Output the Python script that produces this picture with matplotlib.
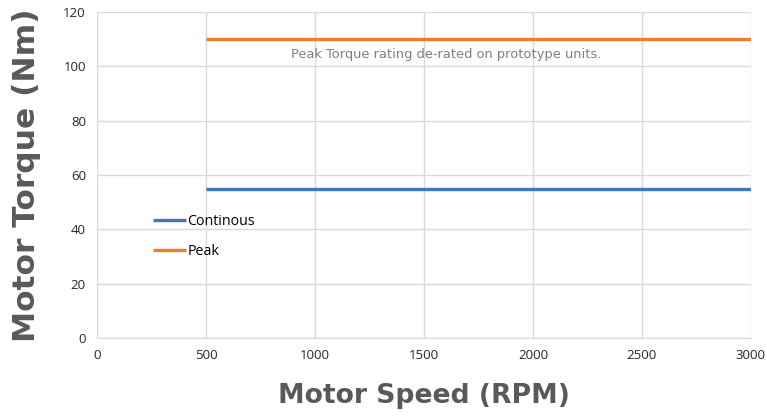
import matplotlib.pyplot as plt

# chart data
speed = [500, 3000]
continuous_torque = [55, 55]
peak_torque = [110, 110]
x_ticks = [0, 500, 1000, 1500, 2000, 2500, 3000]
y_ticks = [0, 20, 40, 60, 80, 100, 120]
note = "Peak Torque rating de-rated on prototype units."

plt.rcParams["font.family"] = ["Open Sans", "DejaVu Sans"]

fig = plt.figure(figsize=(7.67, 4.18), dpi=100)
ax = fig.add_axes([0.1265, 0.1914, 0.8525, 0.7799])

ax.plot(speed, continuous_torque, color="#4472C4", lw=2.4, label="Continous",
        solid_capstyle="butt")
ax.plot(speed, peak_torque, color="#ED7D31", lw=2.4, label="Peak",
        solid_capstyle="butt")

ax.set_xlim(0, 3000)
ax.set_ylim(0, 120)
ax.set_xticks(x_ticks)
ax.set_yticks(y_ticks)
ax.grid(True, color="#D9D9D9", lw=1)
ax.set_axisbelow(True)
for side in ["top", "right", "left"]:
    ax.spines[side].set_visible(False)
ax.spines["bottom"].set_color("#D9D9D9")
ax.tick_params(length=0, labelsize=9.5, colors="#262626", pad=8)

ax.text(1600, 104.3, note, ha="center", va="center", fontsize=9.4,
        color="#7F7F7F", family=["DejaVu Sans"])

ax.set_xlabel("Motor Speed (RPM)", fontsize=19.2, fontweight="bold",
              color="#595959", labelpad=15, family=["DejaVu Sans"])
ax.set_ylabel("Motor Torque (Nm)", fontsize=22.5, fontweight="bold",
              color="#595959", labelpad=16, family=["DejaVu Sans"])

ax.legend(loc="center left", bbox_to_anchor=(0.075, 0.31), frameon=False,
          handlelength=2.3, handletextpad=0.1, fontsize=10.3, labelspacing=1.05,
          borderpad=0)

fig.savefig("out.png", dpi=100)
